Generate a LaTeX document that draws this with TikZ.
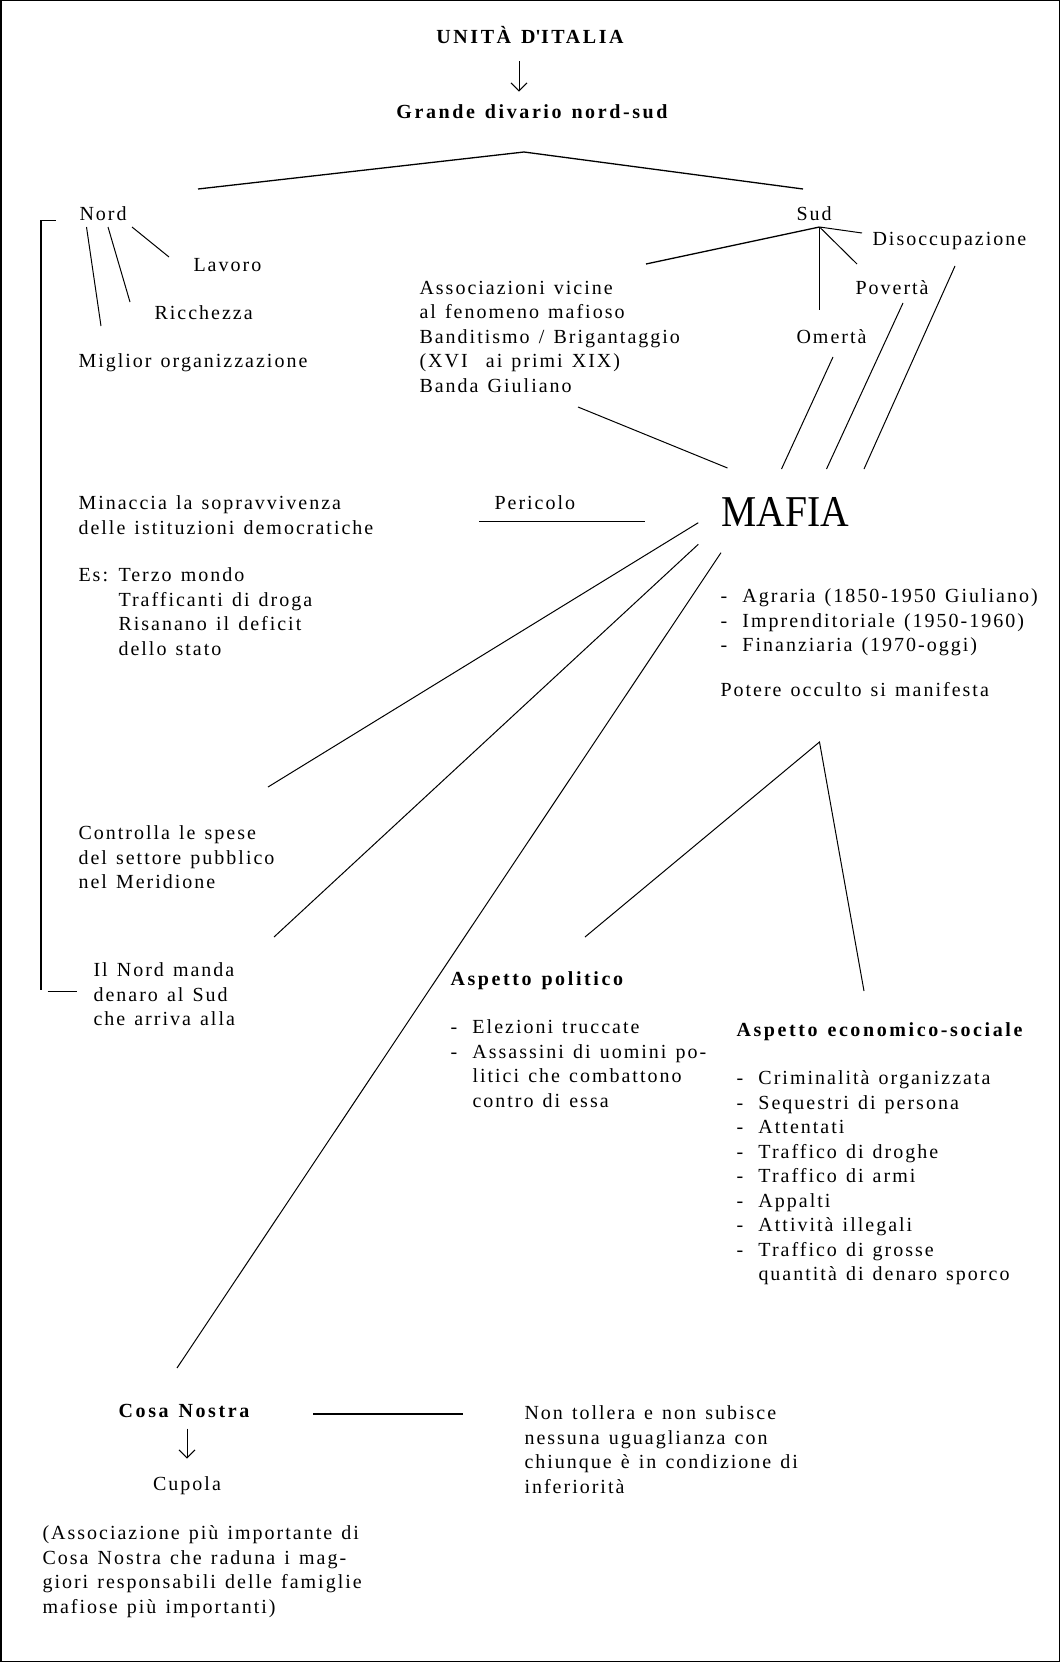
\documentclass[tikz,border=0pt]{standalone}
\usepackage{fontspec}
\setmainfont{Liberation Serif}[LetterSpace=10,WordSpace=1.3]
\newfontfamily\mafiafont{Liberation Serif}[FakeStretch=0.9]
\usetikzlibrary{arrows.meta,calc}
\newcommand{\trat}{\makebox[22pt][l]{-}}
\newcommand{\rient}{\hspace*{22pt}}

\begin{document}
\begin{tikzpicture}[x=1pt,y=-1pt,line width=1pt,
  lbl/.style={inner sep=0pt,anchor=base west,font=\fontsize{20}{24.5}\selectfont},
  blk/.style={inner sep=0pt,anchor=north west,align=left,font=\fontsize{20}{24.5}\selectfont},
  hdr/.style={inner sep=0pt,anchor=base,font=\fontsize{20}{24.5}\selectfont\bfseries\addfontfeatures{LetterSpace=13}},
  arr/.style={-{Straight Barb[length=8pt,width=16pt]}}]
\useasboundingbox (0,0) rectangle (1060,1662);
\draw[line width=1.5pt] (0.75,0.75) rectangle (1059.25,1661.25);

\node[hdr] (unita) at (530,43.5) {UNITÀ D\textquotesingle ITALIA};
\node[hdr] (divario) at (532,118) {Grande divario nord-sud};
\draw[arr,shorten <=17pt,shorten >=12pt] ($(unita.south)+(-11,0)$) -- ($(unita.south |- divario.north)+(-11,0)$);

\coordinate (apex) at (524,152);
\coordinate (nordtop) at (198,189);
\coordinate (sudtop) at (803,189);
\draw[line width=1.3pt] (nordtop) -- (apex) -- (sudtop);

\node[lbl] (nord) at (79,220) {Nord};
\node[lbl] (lavoro) at (193,271) {Lavoro};
\node[lbl] (ricchezza) at (154,319) {Ricchezza};
\node[lbl] (miglior) at (78,367) {Miglior organizzazione};
\coordinate (nordA) at (132,227); \coordinate (lavA) at (169,257);
\coordinate (nordB) at (108,227); \coordinate (ricA) at (130,302);
\coordinate (nordC) at (86.5,227); \coordinate (migA) at (101,326);
\draw (nordA) -- (lavA);
\draw (nordB) -- (ricA);
\draw (nordC) -- (migA);

\node[lbl] (sud) at (796,220) {Sud};
\node[lbl] (disocc) at (872,245) {Disoccupazione};
\node[lbl] (poverta) at (855,294) {Povertà};
\node[lbl] (omerta) at (796,343) {Omertà};
\node[blk] (assoc) at (419,280.5) {Associazioni vicine\\al fenomeno mafioso\\Banditismo / Brigantaggio\\(XVI\ \ ai primi XIX)\\Banda Giuliano};
\coordinate (sudhub) at (819.5,227);
\coordinate (assA) at (646,264); \coordinate (disA) at (862,233);
\coordinate (povA) at (857,264); \coordinate (omeA) at (819.5,310);
\draw[line width=1.3pt] (sudhub) -- (assA);
\draw (sudhub) -- (disA);
\draw (sudhub) -- (povA);
\draw (sudhub) -- (omeA);

\node[inner sep=0pt,anchor=base west,font=\mafiafont\fontsize{44}{44}\selectfont] (mafia) at (721,526.7) {MAFIA};
\coordinate (assB) at (578,407); \coordinate (mafA) at (727.5,468);
\coordinate (omeB) at (833,357); \coordinate (mafB) at (781.5,469);
\coordinate (povB) at (903,303); \coordinate (mafC) at (826.5,469);
\coordinate (disB) at (955,266); \coordinate (mafD) at (864,469);
\draw (assB) -- (mafA);
\draw (omeB) -- (mafB);
\draw (povB) -- (mafC);
\draw (disB) -- (mafD);

\node[lbl] (pericolo) at (494,509) {Pericolo};
\coordinate (perA) at (479,521.5); \coordinate (perB) at (645,521.5);
\draw[line width=1.3pt] (perA) -- (perB);
\node[blk] (minaccia) at (78,495.5) {Minaccia la sopravvivenza\\delle istituzioni democratiche};
\node[lbl] (es) at (78,581) {Es:};
\node[blk] (eslist) at (118,567.5) {Terzo mondo\\Trafficanti di droga\\Risanano il deficit\\dello stato};

\node[blk] (agraria) at (720,588.5) {\trat Agraria (1850-1950 Giuliano)\\\trat Imprenditoriale (1950-1960)\\\trat Finanziaria (1970-oggi)};
\node[lbl] (potere) at (720,696) {Potere occulto si manifesta};

\node[blk] (controlla) at (78,825.5) {Controlla le spese\\del settore pubblico\\nel Meridione};
\node[blk] (ilnord) at (93,962.5) {Il Nord manda\\denaro al Sud\\che arriva alla};
\coordinate (mafE) at (698.3,522.7); \coordinate (conA) at (268,787);
\coordinate (mafF) at (698.3,544.3); \coordinate (ilnA) at (274,937);
\coordinate (mafG) at (721,552.7); \coordinate (cosaA) at (177,1368);
\draw (mafE) -- (conA);
\draw (mafF) -- (ilnA);
\draw (mafG) -- (cosaA);

\coordinate (brA) at (55.7,220.7); \coordinate (brB) at (41,220.7); \coordinate (brC) at (41,990);
\coordinate (brD) at (47.7,991.7); \coordinate (brE) at (77.3,991.7);
\draw[line width=1.2pt] (brA) -- (brB) -- (brC);
\draw[line width=1.2pt] (brD) -- (brE);

\coordinate (potA) at (819.5,742); \coordinate (polA) at (585,937); \coordinate (ecoA) at (864,991);
\draw (polA) -- (potA) -- (ecoA);
\node[hdr,anchor=base west] (politico) at (450,985) {Aspetto politico};
\node[blk] (polist) at (450,1019.5) {\trat Elezioni truccate\\\trat Assassini di uomini po-\\\rient litici che combattono\\\rient contro di essa};
\node[hdr,anchor=base west] (economico) at (736,1036) {Aspetto economico-sociale};
\node[blk] (econlist) at (736,1070.5) {\trat Criminalità organizzata\\\trat Sequestri di persona\\\trat Attentati\\\trat Traffico di droghe\\\trat Traffico di armi\\\trat Appalti\\\trat Attività illegali\\\trat Traffico di grosse\\\rient quantità di denaro sporco};

\node[hdr] (cosa) at (184,1417) {Cosa Nostra};
\node[lbl,anchor=base] (cupola) at (187,1490) {Cupola};
\draw[arr,shorten <=11pt,shorten >=17pt] (cosa.south -| cupola) -- (cupola.north);
\coordinate (cosaB) at (313,1414); \coordinate (tolA) at (463,1414);
\draw[line width=1.3pt] (cosaB) -- (tolA);
\node[blk] (tollera) at (524,1405.5) {Non tollera e non subisce\\nessuna uguaglianza con\\chiunque è in condizione di\\inferiorità};
\node[blk] (cupolainfo) at (42,1525.5) {(Associazione più importante di\\Cosa Nostra che raduna i mag-\\giori responsabili delle famiglie\\mafiose più importanti)};
\end{tikzpicture}
\end{document}
